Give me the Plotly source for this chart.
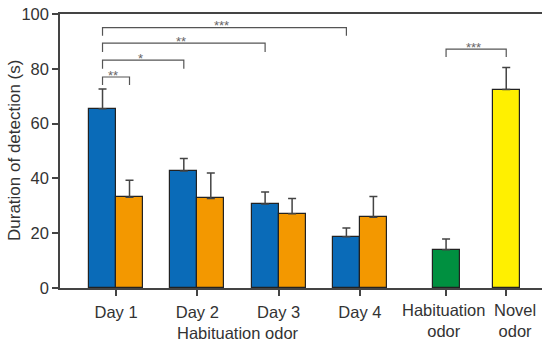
import plotly.graph_objects as go

# ---- data ----
group_labels = ["Day 1", "Day 2", "Day 3", "Day 4", "Habituation<br>odor", "Novel<br>odor"]
group_pos = [1.0, 2.0, 3.0, 4.0, 5.06, 5.8]

blue_vals = [65.4, 42.7, 30.7, 18.7]
blue_err = [7.2, 4.6, 4.3, 3.2]
orange_vals = [33.1, 32.7, 27.1, 25.8]
orange_err = [6.2, 9.3, 5.6, 7.6]
green_val = [14.0]
green_err = [3.9]
yellow_val = [72.4]
yellow_err = [8.1]

# significance brackets: (from_x, to_x, line_y, tick_bottom_y, label)
bar_half = 0.166
brackets = [
    (1 - bar_half, 4 - bar_half, 95.0, 92.1, "***"),
    (1 - bar_half, 3 - bar_half, 89.4, 86.1, "**"),
    (1 - bar_half, 2 - bar_half, 83.2, 80.0, "*"),
    (1 - bar_half, 1 + bar_half, 77.0, 74.1, "**"),
    (5.06, 5.8, 87.2, 84.3, "***"),
]

y_ticks = [0, 20, 40, 60, 80, 100]

FONT = "Liberation Sans, Arial, sans-serif"
TXT = "#333333"

# ---- figure ----
bw = 0.332
outline = dict(color="#222222", width=1.2)
err_style = dict(type="data", symmetric=False, color="#444444", thickness=1.5, width=4)

fig = go.Figure()
fig.add_trace(go.Bar(
    x=[p - bar_half for p in group_pos[:4]], y=blue_vals, width=bw,
    marker=dict(color="#0a6bb8", line=outline),
    error_y=dict(array=blue_err, arrayminus=[0] * 4, **err_style),
))
fig.add_trace(go.Bar(
    x=[p + bar_half for p in group_pos[:4]], y=orange_vals, width=bw,
    marker=dict(color="#f39800", line=outline),
    error_y=dict(array=orange_err, arrayminus=[0] * 4, **err_style),
))
fig.add_trace(go.Bar(
    x=[group_pos[4]], y=green_val, width=bw,
    marker=dict(color="#009040", line=outline),
    error_y=dict(array=green_err, arrayminus=[0], **err_style),
))
fig.add_trace(go.Bar(
    x=[group_pos[5]], y=yellow_val, width=bw,
    marker=dict(color="#fff000", line=outline),
    error_y=dict(array=yellow_err, arrayminus=[0], **err_style),
))

for x0, x1, yl, yb, lab in brackets:
    fig.add_shape(type="path",
                  path=f"M {x0},{yb} L {x0},{yl} L {x1},{yl} L {x1},{yb}",
                  xref="x", yref="y", line=dict(color="#555555", width=1.2))
    fig.add_annotation(x=(x0 + x1) / 2, y=yl, text=lab, showarrow=False,
                       xref="x", yref="y", yanchor="middle", yshift=2, xshift=-3,
                       font=dict(size=13, color="#666666", family=FONT))

# last two category labels drawn as annotations (slightly offset from their ticks)
for pos, lab, dx in zip(group_pos[4:], group_labels[4:], [-3, 9]):
    fig.add_annotation(x=pos, y=0, xref="x", yref="y", text=lab, showarrow=False,
                       yanchor="top", xanchor="center", yshift=-11, xshift=dx,
                       font=dict(size=16.5, color=TXT, family=FONT))

fig.add_annotation(x=2.5, y=0, xref="x", yref="y", text="Habituation odor",
                   showarrow=False, yanchor="top", yshift=-34,
                   font=dict(size=16.5, color=TXT, family=FONT))

fig.add_annotation(x=0, y=0.5, xref="paper", yref="paper", xshift=-46,
                   text="Duration of detection (s)", textangle=-90,
                   showarrow=False, xanchor="center", yanchor="middle",
                   font=dict(size=17, color=TXT, family=FONT))

fig.update_layout(
    width=542, height=340,
    margin=dict(l=60, r=0, t=14, b=52),
    plot_bgcolor="white", paper_bgcolor="white",
    showlegend=False, bargap=0,
    font=dict(family=FONT, size=16.5, color=TXT),
)
fig.update_xaxes(
    range=[0.311, 6.24], tickmode="array", tickvals=group_pos,
    ticktext=group_labels[:4] + ["", ""],
    tickangle=0, automargin=False, ticklabelstandoff=2,
    showline=True, linecolor="#444444", linewidth=1.5, mirror=True,
    ticks="outside", ticklen=6, tickcolor="#444444", tickwidth=1.5,
    showgrid=False, zeroline=False,
)
fig.update_yaxes(
    range=[0, 100], tickvals=y_ticks, automargin=False,
    showline=True, linecolor="#444444", linewidth=1.5,
    ticks="outside", ticklen=6, tickcolor="#444444", tickwidth=1.5,
    showgrid=False, zeroline=False,
)

fig.write_html("out.html", config={"displayModeBar": False},
               post_script="document.body.style.margin='0';document.body.style.overflow='hidden';")
